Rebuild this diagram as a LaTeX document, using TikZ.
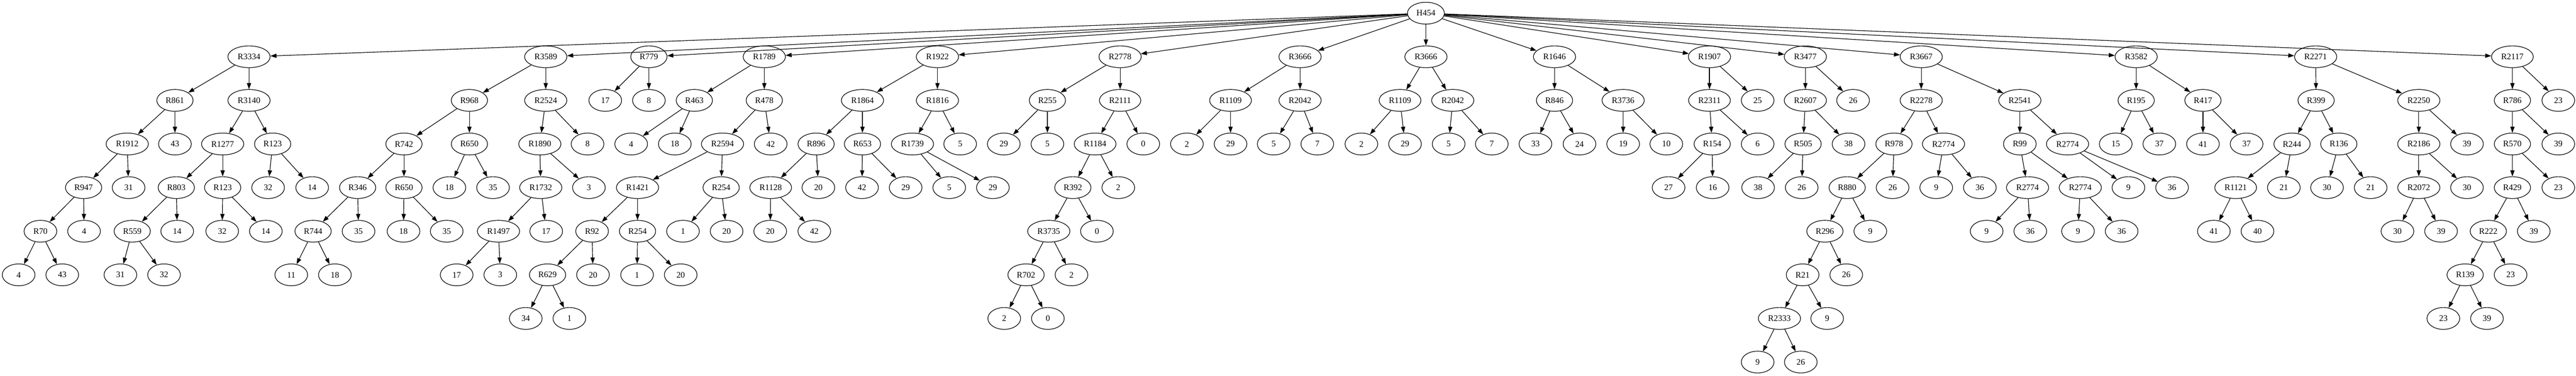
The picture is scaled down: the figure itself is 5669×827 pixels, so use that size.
\documentclass[tikz,border=0pt]{standalone}
\usepackage{fontspec}
\setmainfont{Liberation Serif}
\usetikzlibrary{shapes.geometric}
\usetikzlibrary{arrows.meta}

\begin{document}
\begin{tikzpicture}[x=0.75pt, y=-0.75pt, line width=1pt,
    >={Triangle[length=10pt,width=7pt]},
    nd/.style={draw, ellipse, minimum width=54pt, minimum height=36pt,
        inner xsep=6pt, inner ysep=2pt, font=\fontsize{14pt}{16pt}\selectfont}]
            \useasboundingbox (0,0) rectangle (5669,827);
            \node[nd] (h454) at (3138,29) {H454};
            \node[nd] (r3334) at (548,125) {R3334};
            \node[nd] (r861) at (385,221) {R861};
            \node[nd] (r3140) at (548,221) {R3140};
            \node[nd] (r1912) at (280,317) {R1912};
            \node[nd] (r861r) at (385,317) {43};
            \node[nd] (r1277) at (490,317) {R1277};
            \node[nd] (r123j) at (600,317) {R123};
            \node[nd] (r947) at (184,413) {R947};
            \node[nd] (r1912r) at (283,413) {31};
            \node[nd] (r803) at (388,413) {R803};
            \node[nd] (r123i) at (490,413) {R123};
            \node[nd] (r123jl) at (590,413) {32};
            \node[nd] (r123jr) at (687,413) {14};
            \node[nd] (r70) at (89,509) {R70};
            \node[nd] (r947r) at (185,509) {4};
            \node[nd] (r559) at (291,509) {R559};
            \node[nd] (r803r) at (390,509) {14};
            \node[nd] (r123il) at (489,509) {32};
            \node[nd] (r123ir) at (585,509) {14};
            \node[nd] (r70l) at (41,605) {4};
            \node[nd] (r70r) at (137,605) {43};
            \node[nd] (r559l) at (265,605) {31};
            \node[nd] (r559r) at (361,605) {32};
            \node[nd] (r3589) at (1201,125) {R3589};
            \node[nd] (r968) at (1033,221) {R968};
            \node[nd] (r2524) at (1201,221) {R2524};
            \node[nd] (r742) at (889,317) {R742};
            \node[nd] (r650j) at (1033,317) {R650};
            \node[nd] (r1890) at (1188,317) {R1890};
            \node[nd] (r2524r) at (1293,317) {8};
            \node[nd] (r346) at (787,413) {R346};
            \node[nd] (r650i) at (889,413) {R650};
            \node[nd] (r650jl) at (989,413) {18};
            \node[nd] (r650jr) at (1085,413) {35};
            \node[nd] (r1732) at (1190,413) {R1732};
            \node[nd] (r1890r) at (1296,413) {3};
            \node[nd] (r744) at (689,509) {R744};
            \node[nd] (r346r) at (789,509) {35};
            \node[nd] (r650il) at (888,509) {18};
            \node[nd] (r650ir) at (983,509) {35};
            \node[nd] (r1497) at (1097,509) {R1497};
            \node[nd] (r1732r) at (1202,509) {17};
            \node[nd] (r744l) at (641,605) {11};
            \node[nd] (r744r) at (737,605) {18};
            \node[nd] (r1497l) at (1005,605) {17};
            \node[nd] (r1497r) at (1101,605) {3};
            \node[nd] (r779) at (1428,125) {R779};
            \node[nd] (r779l) at (1332,221) {17};
            \node[nd] (r779r) at (1428,221) {8};
            \node[nd] (r1789) at (1682,125) {R1789};
            \node[nd] (r463) at (1528,221) {R463};
            \node[nd] (r478) at (1682,221) {R478};
            \node[nd] (r463l) at (1389,317) {4};
            \node[nd] (r463r) at (1485,317) {18};
            \node[nd] (r2594) at (1590,317) {R2594};
            \node[nd] (r478r) at (1696,317) {42};
            \node[nd] (r1421) at (1403,413) {R1421};
            \node[nd] (r254j) at (1587,413) {R254};
            \node[nd] (r92) at (1303,509) {R92};
            \node[nd] (r254i) at (1403,509) {R254};
            \node[nd] (r254jl) at (1503,509) {1};
            \node[nd] (r254jr) at (1599,509) {20};
            \node[nd] (r629) at (1205,605) {R629};
            \node[nd] (r92r) at (1305,605) {20};
            \node[nd] (r254il) at (1402,605) {1};
            \node[nd] (r254ir) at (1498,605) {20};
            \node[nd] (r629l) at (1157,701) {34};
            \node[nd] (r629r) at (1253,701) {1};
            \node[nd] (r1922) at (2063,125) {R1922};
            \node[nd] (r1864) at (1898,221) {R1864};
            \node[nd] (r1816) at (2063,221) {R1816};
            \node[nd] (r896) at (1796,317) {R896};
            \node[nd] (r653) at (1898,317) {R653};
            \node[nd] (r1739) at (2008,317) {R1739};
            \node[nd] (r1816r) at (2113,317) {5};
            \node[nd] (r1128) at (1696,413) {R1128};
            \node[nd] (r896r) at (1801,413) {20};
            \node[nd] (r653l) at (1897,413) {42};
            \node[nd] (r653r) at (1993,413) {29};
            \node[nd] (r1739l) at (2089,413) {5};
            \node[nd] (r1739r) at (2185,413) {29};
            \node[nd] (r1128l) at (1695,509) {20};
            \node[nd] (r1128r) at (1792,509) {42};
            \node[nd] (r2778) at (2465,125) {R2778};
            \node[nd] (r255) at (2305,221) {R255};
            \node[nd] (r2111) at (2465,221) {R2111};
            \node[nd] (r255l) at (2209,317) {29};
            \node[nd] (r255r) at (2305,317) {5};
            \node[nd] (r1184) at (2410,317) {R1184};
            \node[nd] (r2111r) at (2516,317) {0};
            \node[nd] (r392) at (2361,413) {R392};
            \node[nd] (r1184r) at (2461,413) {2};
            \node[nd] (r3735) at (2308,509) {R3735};
            \node[nd] (r392r) at (2414,509) {0};
            \node[nd] (r702) at (2258,605) {R702};
            \node[nd] (r3735r) at (2358,605) {2};
            \node[nd] (r702l) at (2210,701) {2};
            \node[nd] (r702r) at (2306,701) {0};
            \node[nd] (r3666i) at (2861,125) {R3666};
            \node[nd] (r1109i) at (2708,221) {R1109};
            \node[nd] (r2042i) at (2861,221) {R2042};
            \node[nd] (r1109il) at (2612,317) {2};
            \node[nd] (r1109ir) at (2708,317) {29};
            \node[nd] (r2042il) at (2803,317) {5};
            \node[nd] (r2042ir) at (2899,317) {7};
            \node[nd] (r3666j) at (3138,125) {R3666};
            \node[nd] (r1109j) at (3081,221) {R1109};
            \node[nd] (r2042j) at (3197,221) {R2042};
            \node[nd] (r1109jl) at (2996,317) {2};
            \node[nd] (r1109jr) at (3092,317) {29};
            \node[nd] (r2042jl) at (3188,317) {5};
            \node[nd] (r2042jr) at (3283,317) {7};
            \node[nd] (r1646) at (3421,125) {R1646};
            \node[nd] (r846) at (3421,221) {R846};
            \node[nd] (r3736) at (3572,221) {R3736};
            \node[nd] (r846l) at (3379,317) {33};
            \node[nd] (r846r) at (3476,317) {24};
            \node[nd] (r3736l) at (3572,317) {19};
            \node[nd] (r3736r) at (3667,317) {10};
            \node[nd] (r1907) at (3762,125) {R1907};
            \node[nd] (r2311) at (3762,221) {R2311};
            \node[nd] (r1907r) at (3868,221) {25};
            \node[nd] (r154) at (3768,317) {R154};
            \node[nd] (r2311r) at (3868,317) {6};
            \node[nd] (r154l) at (3672,413) {27};
            \node[nd] (r154r) at (3769,413) {16};
            \node[nd] (r3477) at (3973,125) {R3477};
            \node[nd] (r2607) at (3973,221) {R2607};
            \node[nd] (r3477r) at (4078,221) {26};
            \node[nd] (r505) at (3968,317) {R505};
            \node[nd] (r2607r) at (4068,317) {38};
            \node[nd] (r505l) at (3869,413) {38};
            \node[nd] (r505r) at (3965,413) {26};
            \node[nd] (r3667) at (4228,125) {R3667};
            \node[nd] (r2278) at (4228,221) {R2278};
            \node[nd] (r2541) at (4445,221) {R2541};
            \node[nd] (r978) at (4168,317) {R978};
            \node[nd] (r2774a) at (4277,317) {R2774};
            \node[nd] (r99) at (4445,317) {R99};
            \node[nd] (r2774b) at (4550,317) {R2774};
            \node[nd] (r880) at (4065,413) {R880};
            \node[nd] (r978r) at (4165,413) {26};
            \node[nd] (r2774al) at (4261,413) {9};
            \node[nd] (r2774ar) at (4357,413) {36};
            \node[nd] (r2774c) at (4462,413) {R2774};
            \node[nd] (r2774d) at (4578,413) {R2774};
            \node[nd] (r2774bl) at (4684,413) {9};
            \node[nd] (r2774br) at (4780,413) {36};
            \node[nd] (r296) at (4016,509) {R296};
            \node[nd] (r880r) at (4116,509) {9};
            \node[nd] (r2774cl) at (4372,509) {9};
            \node[nd] (r2774cr) at (4468,509) {36};
            \node[nd] (r2774dl) at (4573,509) {9};
            \node[nd] (r2774dr) at (4669,509) {36};
            \node[nd] (r21) at (3967,605) {R21};
            \node[nd] (r296r) at (4063,605) {26};
            \node[nd] (r2333) at (3916,701) {R2333};
            \node[nd] (r21r) at (4021,701) {9};
            \node[nd] (r2333l) at (3868,797) {9};
            \node[nd] (r2333r) at (3963,797) {26};
            \node[nd] (r3582) at (4701,125) {R3582};
            \node[nd] (r195) at (4701,221) {R195};
            \node[nd] (r417) at (4848,221) {R417};
            \node[nd] (r195l) at (4656,317) {15};
            \node[nd] (r195r) at (4752,317) {37};
            \node[nd] (r417l) at (4848,317) {41};
            \node[nd] (r417r) at (4944,317) {37};
            \node[nd] (r2271) at (5096,125) {R2271};
            \node[nd] (r399) at (5097,221) {R399};
            \node[nd] (r2250) at (5323,221) {R2250};
            \node[nd] (r244) at (5044,317) {R244};
            \node[nd] (r136) at (5147,317) {R136};
            \node[nd] (r2186) at (5323,317) {R2186};
            \node[nd] (r2250r) at (5429,317) {39};
            \node[nd] (r1121) at (4920,413) {R1121};
            \node[nd] (r244r) at (5026,413) {21};
            \node[nd] (r136l) at (5121,413) {30};
            \node[nd] (r136r) at (5217,413) {21};
            \node[nd] (r2072) at (5323,413) {R2072};
            \node[nd] (r2186r) at (5429,413) {30};
            \node[nd] (r1121l) at (4872,509) {41};
            \node[nd] (r1121r) at (4968,509) {40};
            \node[nd] (r2072l) at (5276,509) {30};
            \node[nd] (r2072r) at (5372,509) {39};
            \node[nd] (r2117) at (5529,125) {R2117};
            \node[nd] (r786) at (5529,221) {R786};
            \node[nd] (r2117r) at (5630,221) {23};
            \node[nd] (r570) at (5529,317) {R570};
            \node[nd] (r786r) at (5630,317) {39};
            \node[nd] (r429) at (5529,413) {R429};
            \node[nd] (r570r) at (5630,413) {23};
            \node[nd] (r222) at (5476,509) {R222};
            \node[nd] (r429r) at (5576,509) {39};
            \node[nd] (r139) at (5425,605) {R139};
            \node[nd] (r222r) at (5525,605) {23};
            \node[nd] (r139l) at (5377,701) {23};
            \node[nd] (r139r) at (5473,701) {39};
            \draw[->] (h454) edge (r3334) edge (r3589) edge (r779) edge (r1789) edge (r1922)
                edge (r2778) edge (r3666i) edge (r3666j) edge (r1646) edge (r1907) edge (r3477)
                edge (r3667) edge (r3582) edge (r2271) edge (r2117);
            \draw[->] (r3334) edge (r861) edge (r3140);
            \draw[->] (r861) edge (r1912) edge (r861r);
            \draw[->] (r1912) edge (r947) edge (r1912r);
            \draw[->] (r947) edge (r70) edge (r947r);
            \draw[->] (r70) edge (r70l) edge (r70r);
            \draw[->] (r3140) edge (r1277) edge (r123j);
            \draw[->] (r1277) edge (r803) edge (r123i);
            \draw[->] (r803) edge (r559) edge (r803r);
            \draw[->] (r559) edge (r559l) edge (r559r);
            \draw[->] (r123i) edge (r123il) edge (r123ir);
            \draw[->] (r123j) edge (r123jl) edge (r123jr);
            \draw[->] (r3589) edge (r968) edge (r2524);
            \draw[->] (r968) edge (r742) edge (r650j);
            \draw[->] (r742) edge (r346) edge (r650i);
            \draw[->] (r346) edge (r744) edge (r346r);
            \draw[->] (r744) edge (r744l) edge (r744r);
            \draw[->] (r650i) edge (r650il) edge (r650ir);
            \draw[->] (r650j) edge (r650jl) edge (r650jr);
            \draw[->] (r2524) edge (r1890) edge (r2524r);
            \draw[->] (r1890) edge (r1732) edge (r1890r);
            \draw[->] (r1732) edge (r1497) edge (r1732r);
            \draw[->] (r1497) edge (r1497l) edge (r1497r);
            \draw[->] (r779) edge (r779l) edge (r779r);
            \draw[->] (r1789) edge (r463) edge (r478);
            \draw[->] (r463) edge (r463l) edge (r463r);
            \draw[->] (r478) edge (r2594) edge (r478r);
            \draw[->] (r2594) edge (r1421) edge (r254j);
            \draw[->] (r1421) edge (r92) edge (r254i);
            \draw[->] (r92) edge (r629) edge (r92r);
            \draw[->] (r629) edge (r629l) edge (r629r);
            \draw[->] (r254i) edge (r254il) edge (r254ir);
            \draw[->] (r254j) edge (r254jl) edge (r254jr);
            \draw[->] (r1922) edge (r1864) edge (r1816);
            \draw[->] (r1864) edge (r896) edge (r653);
            \draw[->] (r896) edge (r1128) edge (r896r);
            \draw[->] (r1128) edge (r1128l) edge (r1128r);
            \draw[->] (r653) edge (r653l) edge (r653r);
            \draw[->] (r1816) edge (r1739) edge (r1816r);
            \draw[->] (r1739) edge (r1739l) edge (r1739r);
            \draw[->] (r2778) edge (r255) edge (r2111);
            \draw[->] (r255) edge (r255l) edge (r255r);
            \draw[->] (r2111) edge (r1184) edge (r2111r);
            \draw[->] (r1184) edge (r392) edge (r1184r);
            \draw[->] (r392) edge (r3735) edge (r392r);
            \draw[->] (r3735) edge (r702) edge (r3735r);
            \draw[->] (r702) edge (r702l) edge (r702r);
            \draw[->] (r3666i) edge (r1109i) edge (r2042i);
            \draw[->] (r1109i) edge (r1109il) edge (r1109ir);
            \draw[->] (r2042i) edge (r2042il) edge (r2042ir);
            \draw[->] (r3666j) edge (r1109j) edge (r2042j);
            \draw[->] (r1109j) edge (r1109jl) edge (r1109jr);
            \draw[->] (r2042j) edge (r2042jl) edge (r2042jr);
            \draw[->] (r1646) edge (r846) edge (r3736);
            \draw[->] (r846) edge (r846l) edge (r846r);
            \draw[->] (r3736) edge (r3736l) edge (r3736r);
            \draw[->] (r1907) edge (r2311) edge (r1907r);
            \draw[->] (r2311) edge (r154) edge (r2311r);
            \draw[->] (r154) edge (r154l) edge (r154r);
            \draw[->] (r3477) edge (r2607) edge (r3477r);
            \draw[->] (r2607) edge (r505) edge (r2607r);
            \draw[->] (r505) edge (r505l) edge (r505r);
            \draw[->] (r3667) edge (r2278) edge (r2541);
            \draw[->] (r2278) edge (r978) edge (r2774a);
            \draw[->] (r978) edge (r880) edge (r978r);
            \draw[->] (r880) edge (r296) edge (r880r);
            \draw[->] (r296) edge (r21) edge (r296r);
            \draw[->] (r21) edge (r2333) edge (r21r);
            \draw[->] (r2333) edge (r2333l) edge (r2333r);
            \draw[->] (r2774a) edge (r2774al) edge (r2774ar);
            \draw[->] (r2541) edge (r99) edge (r2774b);
            \draw[->] (r99) edge (r2774c) edge (r2774d);
            \draw[->] (r2774c) edge (r2774cl) edge (r2774cr);
            \draw[->] (r2774d) edge (r2774dl) edge (r2774dr);
            \draw[->] (r2774b) edge (r2774bl) edge (r2774br);
            \draw[->] (r3582) edge (r195) edge (r417);
            \draw[->] (r195) edge (r195l) edge (r195r);
            \draw[->] (r417) edge (r417l) edge (r417r);
            \draw[->] (r2271) edge (r399) edge (r2250);
            \draw[->] (r399) edge (r244) edge (r136);
            \draw[->] (r244) edge (r1121) edge (r244r);
            \draw[->] (r1121) edge (r1121l) edge (r1121r);
            \draw[->] (r136) edge (r136l) edge (r136r);
            \draw[->] (r2250) edge (r2186) edge (r2250r);
            \draw[->] (r2186) edge (r2072) edge (r2186r);
            \draw[->] (r2072) edge (r2072l) edge (r2072r);
            \draw[->] (r2117) edge (r786) edge (r2117r);
            \draw[->] (r786) edge (r570) edge (r786r);
            \draw[->] (r570) edge (r429) edge (r570r);
            \draw[->] (r429) edge (r222) edge (r429r);
            \draw[->] (r222) edge (r139) edge (r222r);
            \draw[->] (r139) edge (r139l) edge (r139r);
        \end{tikzpicture}
\end{document}
